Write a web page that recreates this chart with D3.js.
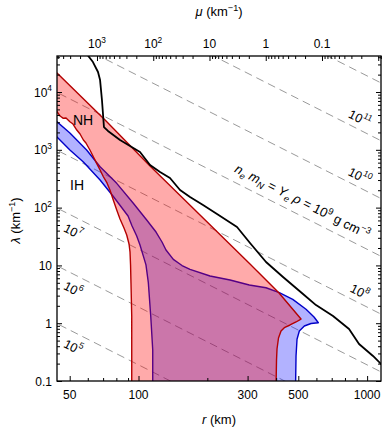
<!DOCTYPE html>
<html><head><meta charset="utf-8">
<script src="https://cdn.jsdelivr.net/npm/d3@7"></script>
<style>
body{margin:0;background:#fff}
svg{display:block}
text{font-family:'Liberation Sans',Arial,Helvetica,sans-serif;fill:#000}
</style>
</head><body>
<svg id="c" width="386" height="429"></svg>
<script>
// ---------------- data (r in km, lambda in km^-1) ----------------
const nhBoundary = [
  [44,2.13e4],[71.4,3280],[112.3,524],[185.8,74.5],[307.4,10.6],[411.8,3.33],[513.8,1.18],
  [488.7,1.05],[460,0.931],[434.3,0.836],[420.1,0.733],[409.6,0.555],[403.5,0.358],[401.5,0.231],[399.5,0.08],
  [93.4,0.08],[93.4,1.33],[92.7,4.96],[92.3,10.2],[91.8,17.1],[90.9,23.5],[88.8,33.6],[86.4,44.4],
  [83.0,63.5],[80.3,90.9],[77.3,141],[75.0,202],[72.8,267],[70.2,342],[67.9,447],[65.6,584],
  [63.2,781],[61.3,992],[58.9,1311],[57.4,1478],[55.5,1877],[53.7,2200],[51.7,2795],[50.1,3063],
  [48.2,3550],[46.9,3508],[45.4,3844],[44,4563],[42,4800],[42,2.3e4]
];
const ihBoundary = [
  [42,3300],[44,3063],[50.1,1953],[59.3,992],[67.9,510],[80.3,263],[94.9,119],[108.6,61.0],
  [119.3,37.8],[126.7,25.4],[131.9,18.5],[142.0,12.75],[155.0,9.96],[168.0,8.56],[205.5,6.55],
  [251.4,5.59],[305.2,4.58],[361.2,4.11],[413,3.37],[472.8,2.59],[540.4,1.74],[585.7,1.28],[611.7,1.02],
  [568.4,0.988],[531.3,0.895],[505.2,0.733],[493.6,0.527],[488.7,0.271],[486.3,0.08],
  [115.4,0.08],[115.4,0.344],[113.1,1.33],[110.4,5.02],[107.8,10.2],[105.0,14.5],[101.5,22.5],
  [98.2,32.3],[93.7,48.1],[90.0,71.6],[84.7,98.4],[77.3,159],[67.9,300],[57.4,615],[50.1,992],
  [44,1665],[42,1800]
];
const blackCurve = [
  [59.5,5.0e4],[60.3,4.2e4],[63.2,3.3e4],[66.5,2.22e4],[67.9,1.61e4],[69.2,7270],[70.6,2480],
  [73.5,2120],[83.0,1480],[101.5,916],[112.3,546],[124.2,413],[137.3,325],[151.9,202],[168.0,153],
  [191.5,111],[220.5,77.5],[269.7,46.2],[307.4,24.4],[361.2,11.45],[428.6,6.30],[524.3,3.20],
  [597.6,2.06],[709.3,1.33],[833.5,0.794],[921.8,0.437],[1061,0.271],[1150,0.197],[1200,0.17]
];
// dashed reference lines: density exponent, lambda at r=40 km and r=1200 km
const densityExp   = [5, 6, 7, 8, 9, 10, 11, 12];
const densLamAt40  = [1.19, 11.9, 119, 1190, 11900, 1.19e5, 1.19e6, 1.19e7];
const densLamAt1200= [1.32e-3, 1.32e-2, 0.132, 1.32, 13.2, 132, 1320, 13200];

const rTickMajor = [50, 100, 300, 500, 1000];
const rTickMinor = [60, 70, 80, 90, 200, 400, 600, 700, 800, 900];
const lamTickMajor = [0.1, 1, 10, 100, 1000, 10000];
const lamTickLabels = [["0.1"],["1"],["10"],["10","2"],["10","3"],["10","4"]];
const muTickMajor = [1000, 100, 10, 1, 0.1, 0.01];
const muTickLabels = [["10","3"],["10","2"],["10"],["1"],["0.1"],null];

// ---------------- layout ----------------
const L=57,R=381,T=56,B=381;
const svg=d3.select('#c');
const x=d3.scaleLog().domain([44,1150]).range([L,R]);
const y=d3.scaleLog().domain([0.1,4.2e4]).range([B,T]);
const xTop=d3.scaleLog().domain([5140,0.00893]).range([L,R]);

svg.append('defs').append('clipPath').attr('id','clip')
  .append('rect').attr('x',L).attr('y',T).attr('width',R-L).attr('height',B-T);

const plot=svg.append('g').attr('clip-path','url(#clip)');
const line=d3.line().x(d=>x(d[0])).y(d=>y(d[1]));

// dashed density lines
densityExp.forEach((k,i)=>{
  plot.append('line')
    .attr('x1',x(40)).attr('y1',y(densLamAt40[i]))
    .attr('x2',x(1200)).attr('y2',y(densLamAt1200[i]))
    .attr('stroke','#9a9a9a').attr('stroke-width',1).attr('stroke-dasharray','8,5');
});

// IH region (blue) then NH region (red) on top
plot.append('path').attr('d',line(ihBoundary)+'Z')
  .attr('fill','#0000ff').attr('fill-opacity',0.3)
  .attr('stroke','#0000c8').attr('stroke-width',1.4).attr('stroke-linejoin','round');
plot.append('path').attr('d',line(nhBoundary)+'Z')
  .attr('fill','#ff0000').attr('fill-opacity',0.333)
  .attr('stroke','#b40000').attr('stroke-width',1.4).attr('stroke-linejoin','round');

// black curve
plot.append('path').attr('d',line(blackCurve))
  .attr('fill','none').attr('stroke','#000').attr('stroke-width',1.8).attr('stroke-linejoin','round');

// ---------------- rich text helper ----------------
function rich(t,segs,fs){
  let cur=0;
  segs.forEach(s=>{
    const target = s.k==='sup'? -0.42*fs : s.k==='sub'? 0.25*fs : 0;
    const ts=t.append('tspan').attr('dy',target-cur).text(s.t);
    if(s.k==='sup'||s.k==='sub') ts.attr('font-size',fs*0.7);
    if(s.i) ts.attr('font-style','italic');
    cur=target;
  });
}
function powSegs(lbl){ return lbl.length>1 ? [{t:lbl[0]},{t:lbl[1],k:'sup'}] : [{t:lbl[0]}]; }

// density labels
const angle = Math.atan2(y(densLamAt1200[0])-y(densLamAt40[0]), x(1200)-x(40))*180/Math.PI;
function lamOnLine(i,r){
  const t=Math.log(r/40)/Math.log(1200/40);
  return Math.exp(Math.log(densLamAt40[i])*(1-t)+Math.log(densLamAt1200[i])*t);
}
const densLabelSpec=[[0,55,15],[1,55,15],[2,55,15],[3,885,-9],[5,885,-9],[6,885,-9]];
densLabelSpec.forEach(([i,r,off])=>{
  const g=svg.append('g').attr('transform',`translate(${x(r)},${y(lamOnLine(i,r))}) rotate(${angle})`);
  const t=g.append('text').attr('y',off).attr('text-anchor','middle').attr('font-size',12.5)
    .attr('dominant-baseline','middle');
  rich(t,[{t:'10'},{t:String(densityExp[i]),k:'sup'}],12.5);
});
{
  const r=490, i=4;
  const g=svg.append('g').attr('transform',`translate(${x(r)},${y(lamOnLine(i,r))}) rotate(${angle})`);
  const t=g.append('text').attr('y',-9).attr('text-anchor','middle').attr('font-size',13);
  rich(t,[{t:'n',i:1},{t:'e',k:'sub',i:1},{t:' m',i:1},{t:'N',k:'sub',i:1},{t:' = '},{t:'Y',i:1},{t:'e',k:'sub',i:1},
          {t:' ρ',i:1},{t:' = 10'},{t:'9',k:'sup'},{t:' g cm'},{t:'−3',k:'sup'}],13);
}

// NH / IH labels
svg.append('text').attr('x',73).attr('y',125).attr('font-size',14).text('NH');
svg.append('text').attr('x',70).attr('y',190).attr('font-size',14).text('IH');

// ---------------- frame and ticks ----------------
svg.append('rect').attr('x',L).attr('y',T).attr('width',R-L).attr('height',B-T)
  .attr('fill','none').attr('stroke','#000').attr('stroke-width',1.3);

function tickAxis(axisFn,scale,vals,len,tx,ty){
  const g=svg.append('g').attr('transform',`translate(${tx},${ty})`)
    .call(axisFn(scale).tickValues(vals).tickSize(-len).tickFormat(''));
  g.select('.domain').remove();
  g.selectAll('line').attr('stroke','#000').attr('stroke-width',1);
}
const lamMinor=[];
[0.1,1,10,100,1000,10000].forEach(d=>{for(let m=2;m<=9;m++){const v=d*m; if(v<=4.2e4) lamMinor.push(v);} });
const muMinor=[];
[0.001,0.01,0.1,1,10,100,1000].forEach(d=>{for(let m=2;m<=9;m++){const v=d*m; if(v<=5140&&v>=0.00893) muMinor.push(v);} });

tickAxis(d3.axisBottom,x,rTickMajor,5,0,B);
tickAxis(d3.axisBottom,x,rTickMinor,3,0,B);
tickAxis(d3.axisTop,xTop,muTickMajor,5,0,T);
tickAxis(d3.axisTop,xTop,muMinor,3,0,T);
tickAxis(d3.axisLeft,y,lamTickMajor,5,L,0);
tickAxis(d3.axisLeft,y,lamMinor,3,L,0);
tickAxis(d3.axisRight,y,lamTickMajor,5,R,0);
tickAxis(d3.axisRight,y,lamMinor,3,R,0);

// tick labels
rTickMajor.forEach(v=>{
  svg.append('text').attr('x',x(v)).attr('y',B+18).attr('text-anchor','middle').attr('font-size',12).text(String(v));
});
lamTickMajor.forEach((v,i)=>{
  const t=svg.append('text').attr('x',L-5).attr('y',y(v)+4.5).attr('text-anchor','end').attr('font-size',12);
  rich(t,powSegs(lamTickLabels[i]),12);
});
muTickMajor.forEach((v,i)=>{
  if(!muTickLabels[i]) return;
  const t=svg.append('text').attr('x',xTop(v)).attr('y',T-8).attr('text-anchor','middle').attr('font-size',12);
  rich(t,powSegs(muTickLabels[i]),12);
});

// axis titles
{
  const t=svg.append('text').attr('x',(L+R)/2).attr('y',16).attr('text-anchor','middle').attr('font-size',13);
  rich(t,[{t:'μ',i:1},{t:' (km'},{t:'−1',k:'sup'},{t:')'}],13);
  const b=svg.append('text').attr('x',(L+R)/2).attr('y',424).attr('text-anchor','middle').attr('font-size',13);
  rich(b,[{t:'r',i:1},{t:' (km)'}],13);
  const l=svg.append('text').attr('transform',`translate(20,${(T+B)/2+2}) rotate(-90)`).attr('text-anchor','middle').attr('font-size',13);
  rich(l,[{t:'λ',i:1},{t:' (km'},{t:'−1',k:'sup'},{t:')'}],13);
}
</script>
</body></html>
